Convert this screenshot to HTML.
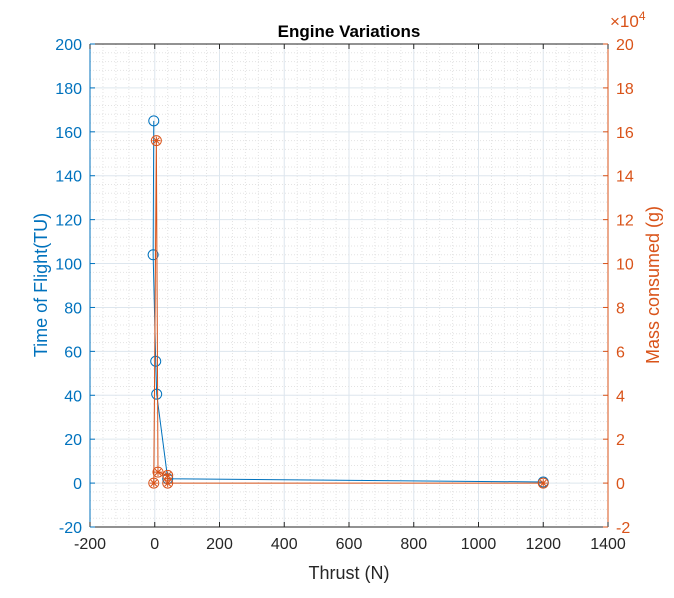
<!DOCTYPE html>
<html><head><meta charset="utf-8"><style>
body{margin:0;background:#fff;font-family:"Liberation Sans",sans-serif}
</style></head><body>
<svg id="c" width="674" height="593" xmlns="http://www.w3.org/2000/svg"></svg>
<script>
const xTicks=[-200,0,200,400,600,800,1000,1200,1400];
const yLTicks=[-20,0,20,40,60,80,100,120,140,160,180,200];
const yRTicks=[-2,0,2,4,6,8,10,12,14,16,18,20];
const blueX=[-3,-5,3,6,40,1200];
const blueY=[165,104,55.5,40.5,2,0.5];
const orangeX=[-3,5,10,40,40,1200];
const orangeY=[0,156000,5000,3500,0,0];
const L=90,R=608,T=44,B=527;
const sx=v=>L+(v+200)/1600*(R-L);
const sy=v=>T+(200-v)/220*(B-T);
const sr=v=>sy(v/1000);
const svg=document.getElementById('c');const NS='http://www.w3.org/2000/svg';
function el(t,a,p){const e=document.createElementNS(NS,t);for(const k in a)e.setAttribute(k,a[k]);(p||svg).appendChild(e);return e;}
const g=el('g',{});


for(let v=-200;v<=1400;v+=40){const maj=v%200===0;el('line',{x1:sx(v),x2:sx(v),y1:T,y2:B,stroke:maj?'#dde6ee':'#e3e3e3','stroke-dasharray':maj?'':'1,2'},g);}
for(let v=-20;v<=200;v+=4){const maj=v%20===0;el('line',{x1:L,x2:R,y1:sy(v),y2:sy(v),stroke:maj?'#dde6ee':'#e3e3e3','stroke-dasharray':maj?'':'1,2'},g);}
const ax=el('g',{});


el('line',{x1:L,x2:R,y1:B,y2:B,stroke:'#262626'},ax);
el('line',{x1:L,x2:R,y1:T,y2:T,stroke:'#262626'},ax);
el('line',{x1:L,x2:L,y1:T,y2:B,stroke:'#0072BD'},ax);
el('line',{x1:R,x2:R,y1:T,y2:B,stroke:'#D95319'},ax);
xTicks.forEach(v=>{el('line',{x1:sx(v),x2:sx(v),y1:B,y2:B-5,stroke:'#262626'},ax);el('line',{x1:sx(v),x2:sx(v),y1:T,y2:T+5,stroke:'#262626'},ax);
const t=el('text',{x:sx(v),y:B+22,'text-anchor':'middle','font-size':16,fill:'#262626'},ax);t.textContent=v;

});
yLTicks.forEach(v=>{el('line',{x1:L,x2:L+5,y1:sy(v),y2:sy(v),stroke:'#0072BD'},ax);
const t=el('text',{x:L-8,y:sy(v)+6,'text-anchor':'end','font-size':16,fill:'#0072BD'},ax);t.textContent=v;

});
yRTicks.forEach(v=>{el('line',{x1:R,x2:R-5,y1:sr(v*10000),y2:sr(v*10000),stroke:'#D95319'},ax);
const t=el('text',{x:R+8,y:sr(v*10000)+6,'font-size':16,fill:'#D95319'},ax);t.textContent=v;

});
function series(xs,ys,col,f,name){const gg=el('g',{});


el('polyline',{points:xs.map((x,i)=>sx(x)+','+f(ys[i])).join(' '),fill:'none',stroke:col,'stroke-width':1},gg);
xs.forEach((x,i)=>{const cx=sx(x),cy=f(ys[i]);el('circle',{cx,cy,r:5,fill:'none',stroke:col},gg);
if(col==='#D95319'){el('path',{d:`M${cx-4} ${cy}H${cx+4}M${cx} ${cy-4}V${cy+4}M${cx-3} ${cy-3}L${cx+3} ${cy+3}M${cx-3} ${cy+3}L${cx+3} ${cy-3}`,stroke:col},gg);}});}
series(blueX,blueY,'#0072BD',sy,'time-of-flight-series');
series(orangeX,orangeY,'#D95319',sr,'mass-consumed-series');
function txt(s,a,n){const t=el('text',a);t.textContent=s;

return t;}
txt('Engine Variations',{x:349,y:37,'text-anchor':'middle','font-size':17,'font-weight':'bold',fill:'#000'},'chart-title');
txt('Thrust (N)',{x:349,y:579,'text-anchor':'middle','font-size':18,fill:'#262626'},'x-axis-title');
txt('Time of Flight(TU)',{x:0,y:0,transform:'translate(47,285) rotate(-90)','text-anchor':'middle','font-size':18,fill:'#0072BD'},'y-left-axis-title');
txt('Mass consumed (g)',{x:0,y:0,transform:'translate(659,285) rotate(-90)','text-anchor':'middle','font-size':18,fill:'#D95319'},'y-right-axis-title');
const m=txt('×10',{x:610,y:27,'font-size':17,fill:'#D95319'},'exponent-label');
const s=el('tspan',{dy:-7,'font-size':12},m);s.textContent='4';
</script>
</body></html>
